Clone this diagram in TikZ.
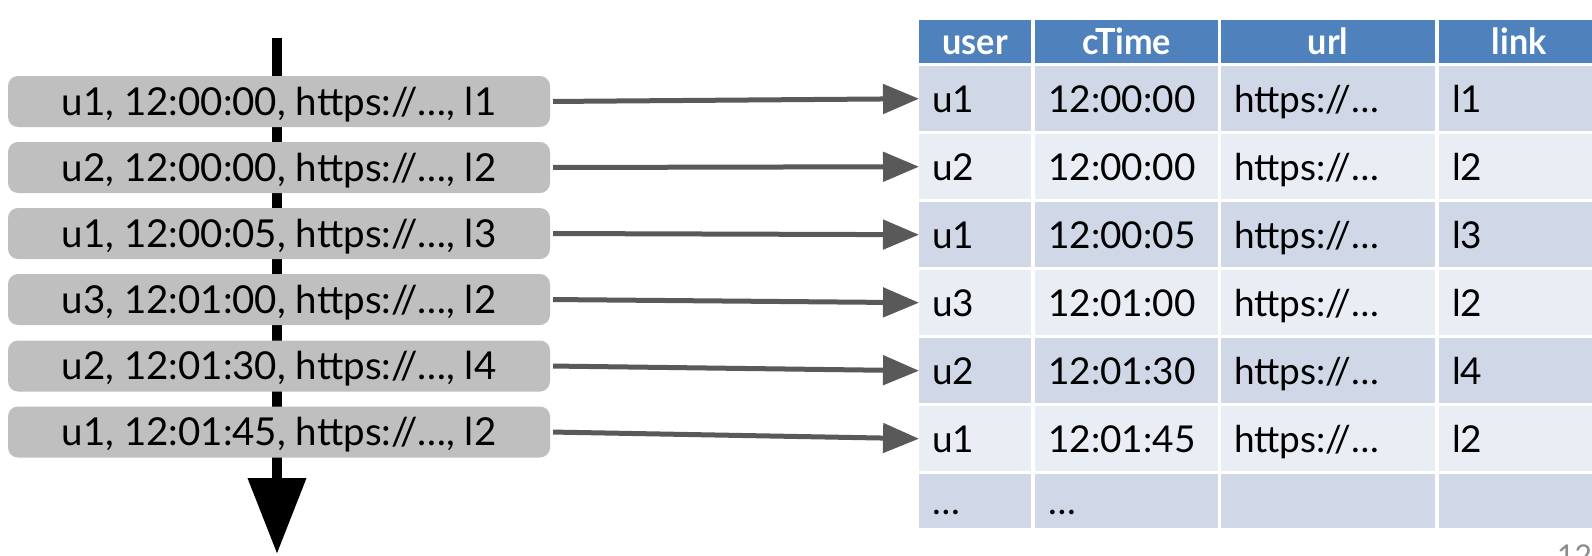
\documentclass[tikz,border=0pt]{standalone}
\usepackage{fontspec}
\setmainfont{Lato}
\newfontfamily\hdrfont{Lato}[FakeStretch=0.95]
\usetikzlibrary{arrows.meta}
\definecolor{boxgray}{HTML}{BFBFBF}
\definecolor{arrowgray}{HTML}{595959}
\definecolor{hdrblue}{HTML}{4F81BD}
\definecolor{rowdark}{HTML}{D0D8E8}
\definecolor{rowlight}{HTML}{E9EDF4}
\definecolor{pagegray}{HTML}{8C8C8C}
\newcommand\trow[8]{%
  \node[cellbase,colA,fill=#4,minimum height=#3pt] (t#1-1) at (919,#2) {#5};
  \node[cellbase,colB,fill=#4,minimum height=#3pt] (t#1-2) at (1035,#2) {#6};
  \node[cellbase,colC,fill=#4,minimum height=#3pt] (t#1-3) at (1221,#2) {#7};
  \node[cellbase,colD,fill=#4,minimum height=#3pt] (t#1-4) at (1439,#2) {#8};
}
\begin{document}
\begin{tikzpicture}[x=1pt,y=-1pt,
  recbox/.style={rounded corners=10pt, fill=boxgray, minimum width=542pt, minimum height=51pt,
    inner sep=0pt, font=\fontsize{38.5}{42}\selectfont, text height=27.5pt, text depth=0pt},
  cellbase/.style={anchor=north west, inner xsep=13pt, inner ysep=0pt, align=left,
    font=\fontsize{37}{40}\selectfont, text height=27pt, text depth=0pt},
  hdrcell/.style={anchor=north west, inner xsep=13pt, inner ysep=0pt, align=center,
    fill=hdrblue, text=white, minimum height=43pt,
    font=\hdrfont\bfseries\fontsize{36}{38}\selectfont, text height=26pt, text depth=0pt},
  colA/.style={text width=86pt},
  colB/.style={text width=157pt},
  colC/.style={text width=188pt},
  colD/.style={text width=134pt},
  garrow/.style={draw=arrowgray, line width=5pt, shorten <=3pt,
    -{Triangle[width=29pt,length=36pt]}, arrowgray},
  timearrow/.style={draw=black, line width=10.5pt, -{Triangle[width=56pt,length=76pt]}}
]
\useasboundingbox (0,0) rectangle (1592,555);

% time axis
\coordinate (tTop) at (277,38);
\coordinate (tBot) at (277,554);
\draw[timearrow] (tTop) -- (tBot);

% event boxes
\node[recbox] (b1) at (279,101.5) {u1, 12:00:00, https://…, l1};
\node[recbox] (b2) at (279,167.5) {u2, 12:00:00, https://…, l2};
\node[recbox] (b3) at (279,233.5) {u1, 12:00:05, https://…, l3};
\node[recbox] (b4) at (279,299.5) {u3, 12:01:00, https://…, l2};
\node[recbox] (b5) at (279,366) {u2, 12:01:30, https://…, l4};
\node[recbox] (b6) at (279,432) {u1, 12:01:45, https://…, l2};

% table header
\node[hdrcell,colA] (h1) at (919,20) {user};
\node[hdrcell,colB] (h2) at (1035,20) {cTime};
\node[hdrcell,colC] (h3) at (1221,20) {url};
\node[hdrcell,colD] (h4) at (1439,20) {link};

% table rows
\trow{1}{66}{65}{rowdark}{u1}{12:00:00}{https://…}{l1}
\trow{2}{134}{65}{rowlight}{u2}{12:00:00}{https://…}{l2}
\trow{3}{202}{65}{rowdark}{u1}{12:00:05}{https://…}{l3}
\trow{4}{270}{65}{rowlight}{u3}{12:01:00}{https://…}{l2}
\trow{5}{338}{65}{rowdark}{u2}{12:01:30}{https://…}{l4}
\trow{6}{406}{65}{rowlight}{u1}{12:01:45}{https://…}{l2}
\trow{7}{474}{54}{rowdark}{…}{…}{}{}

% connectors
\foreach \i in {1,...,6}{
  \draw[garrow] (b\i.east) -- (t\i-1.west);
}

% page number (partly cut off, as in the original)
\node[anchor=north west, inner sep=0pt, text=pagegray, font=\fontsize{30}{32}\selectfont] (pnum) at (1557,545) {12};
\end{tikzpicture}
\end{document}
